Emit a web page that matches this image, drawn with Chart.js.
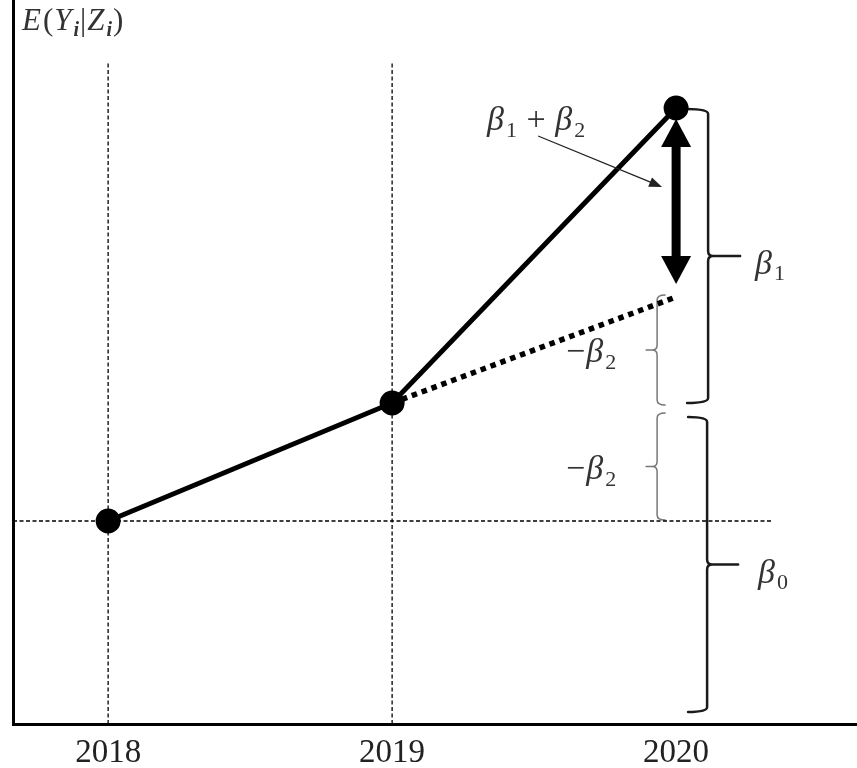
<!DOCTYPE html>
<html>
<head>
<meta charset="utf-8">
<script src="https://cdn.jsdelivr.net/npm/chart.js@4"></script>
<style>
  body { margin: 0; background: #fff; }
  #wrap { width: 857px; height: 768px; }
</style>
</head>
<body>
<div id="wrap"><canvas id="chart"></canvas></div>
<script>
// values (vertical unit = 1 px of the original plot)
const years = [2018, 2019, 2020];
const expected = [203, 321, 616];          // E(Y|Z) observed path
const trendYears = [2019, 2020];
const trendValues = [321, 427];            // dotted counterfactual
const baselineValue = 203;                 // beta0 level
const guideYears = [2018, 2019];           // dashed vertical guides
const guideTop = 662;
const xTickLabels = ['2018', '2019', '2020'];

const SERIF = "'Liberation Serif', 'DejaVu Serif', serif";
const INK = '#1a1a1a';

// draw a run of text pieces: [text, kind] kind = i (italic), n (normal), s (subscript), si (italic subscript)
function drawMath(ctx, pieces, x, y, size) {
    ctx.save();
    ctx.fillStyle = '#333';
    ctx.textBaseline = 'alphabetic';
    ctx.textAlign = 'left';
    pieces.forEach(([t, kind]) => {
        if (kind === 's' || kind === 'si') {
            ctx.font = `${kind === 'si' ? 'italic bold ' : ''}${Math.round(size * 0.66)}px ${SERIF}`;
            ctx.fillText(t, x, y + size * 0.2);
        } else if (kind === 'i') {
            ctx.font = `italic ${size}px ${SERIF}`;
            ctx.fillText(t, x, y);
        } else {
            ctx.font = `${size}px ${SERIF}`;
            ctx.fillText(t, x, y);
        }
        x += ctx.measureText(t).width + (kind === 'i' ? 2 : 1);
    });
    ctx.restore();
}

// curly brace; dir = 1 tip points right, -1 tip points left
function drawBrace(ctx, x, top, bottom, dir, arm, tip, color, width) {
    const mid = (top + bottom) / 2;
    const r = 5;
    ctx.save();
    ctx.strokeStyle = color;
    ctx.lineWidth = width;
    ctx.lineCap = 'round';
    ctx.beginPath();
    ctx.moveTo(x - dir * arm, top);
    ctx.quadraticCurveTo(x, top, x, top + r);
    ctx.lineTo(x, mid - r);
    ctx.quadraticCurveTo(x, mid, x + dir * r, mid);
    ctx.lineTo(x + dir * tip, mid);
    ctx.moveTo(x + dir * r, mid);
    ctx.quadraticCurveTo(x, mid, x, mid + r);
    ctx.lineTo(x, bottom - r);
    ctx.quadraticCurveTo(x, bottom, x - dir * arm, bottom);
    ctx.stroke();
    ctx.restore();
}

const annotations = {
    id: 'annotations',
    beforeDatasetsDraw(chart) {
        const ctx = chart.ctx;
        const xs = chart.scales.x, ys = chart.scales.y;
        const x20 = xs.getPixelForValue(2020);
        const yTop = ys.getPixelForValue(expected[2]);
        const y19 = ys.getPixelForValue(expected[1]);
        const yBase = ys.getPixelForValue(baselineValue);
        const yDot = ys.getPixelForValue(trendValues[1]);

        // braces
        drawBrace(ctx, x20 + 32, yTop + 1, y19, 1, 21, 32, INK, 2.5);
        drawBrace(ctx, x20 + 31, y19 + 14, chart.chartArea.bottom - 12, 1, 19, 31, INK, 2.5);
        drawBrace(ctx, x20 - 19, yDot - 2, y19 + 2, -1, 8, 11, '#777', 1.5);
        drawBrace(ctx, x20 - 19, y19 + 10, yBase - 1, -1, 8, 11, '#777', 1.5);

        // thick double arrow
        const aTop = yTop + 11, aBot = yDot - 13, hw = 15, hh = 28;
        ctx.save();
        ctx.fillStyle = '#000';
        ctx.fillRect(x20 - 4.5, aTop + hh - 2, 9, aBot - aTop - 2 * hh + 4);
        ctx.beginPath();
        ctx.moveTo(x20, aTop); ctx.lineTo(x20 + hw, aTop + hh); ctx.lineTo(x20 - hw, aTop + hh);
        ctx.closePath(); ctx.fill();
        ctx.beginPath();
        ctx.moveTo(x20, aBot); ctx.lineTo(x20 + hw, aBot - hh); ctx.lineTo(x20 - hw, aBot - hh);
        ctx.closePath(); ctx.fill();
        ctx.restore();
    },
    afterDatasetsDraw(chart) {
        const ctx = chart.ctx;
        const xs = chart.scales.x, ys = chart.scales.y;
        const x20 = xs.getPixelForValue(2020);
        const yTop = ys.getPixelForValue(expected[2]);
        const y19 = ys.getPixelForValue(expected[1]);
        const yBase = ys.getPixelForValue(baselineValue);
        const yDot = ys.getPixelForValue(trendValues[1]);

        // thin pointer arrow
        const x0 = x20 - 138, y0 = yTop + 28, x1 = x20 - 14, y1 = yTop + 79;
        const ang = Math.atan2(y1 - y0, x1 - x0);
        ctx.save();
        ctx.strokeStyle = '#222';
        ctx.fillStyle = '#222';
        ctx.lineWidth = 1.3;
        ctx.beginPath(); ctx.moveTo(x0, y0);
        ctx.lineTo(x1 - 10 * Math.cos(ang), y1 - 10 * Math.sin(ang)); ctx.stroke();
        ctx.beginPath();
        ctx.moveTo(x1, y1);
        ctx.lineTo(x1 - 13 * Math.cos(ang) + 5 * Math.sin(ang), y1 - 13 * Math.sin(ang) - 5 * Math.cos(ang));
        ctx.lineTo(x1 - 13 * Math.cos(ang) - 5 * Math.sin(ang), y1 - 13 * Math.sin(ang) + 5 * Math.cos(ang));
        ctx.closePath(); ctx.fill();
        ctx.restore();

        // labels
        const s = 34;
        drawMath(ctx, [['E', 'i'], ['(', 'n'], ['Y', 'i'], ['i', 'si'], ['|', 'n'], ['Z', 'i'], ['i', 'si'], [')', 'n']],
            chart.chartArea.left + 9, 30, 31);
        drawMath(ctx, [['β', 'i'], ['1', 's'], [' + ', 'n'], ['β', 'i'], ['2', 's']], x20 - 189, yTop + 22, s);
        drawMath(ctx, [['β', 'i'], ['1', 's']], x20 + 79, (yTop + y19) / 2 + 18, s);
        drawMath(ctx, [['β', 'i'], ['0', 's']], x20 + 82, (y19 + 14 + chart.chartArea.bottom - 12) / 2 + 18, s);
        drawMath(ctx, [['−', 'n'], ['β', 'i'], ['2', 's']], x20 - 110, (yDot + y19) / 2 + 12, s);
        drawMath(ctx, [['−', 'n'], ['β', 'i'], ['2', 's']], x20 - 110, (y19 + 10 + yBase) / 2 + 12, s);
    }
};

const datasets = [
    {
        data: years.map((y, i) => ({ x: y, y: expected[i] })),
        borderColor: '#000', backgroundColor: '#000',
        borderWidth: 5, pointRadius: 10, pointHoverRadius: 10,
        order: 0
    },
    {
        data: trendYears.map((y, i) => ({ x: y, y: trendValues[i] })),
        borderColor: '#000', borderWidth: 5.5, borderDash: [5.5, 5],
        borderCapStyle: 'butt', pointRadius: 0, order: 1
    },
    {
        data: [{ x: 2017.665, y: baselineValue }, { x: 2020.338, y: baselineValue }],
        borderColor: '#000', borderWidth: 1.3, borderDash: [4, 2.5], pointRadius: 0, order: 2
    }
];
guideYears.forEach(g => {
    datasets.push({
        data: [{ x: g, y: 0 }, { x: g, y: guideTop }],
        borderColor: '#000', borderWidth: 1.3, borderDash: [4, 2.5], pointRadius: 0, order: 2
    });
});

new Chart(document.getElementById('chart'), {
    type: 'line',
    data: { datasets },
    plugins: [annotations],
    options: {
        responsive: true,
        maintainAspectRatio: false,
        animation: false,
        layout: { padding: 0, autoPadding: false },
        plugins: { legend: { display: false }, tooltip: { enabled: false } },
        scales: {
            x: {
                type: 'linear',
                min: 2017.665,
                max: 2020.637,
                grid: { display: false },
                border: { display: true, color: '#000', width: 3 },
                afterBuildTicks: scale => { scale.ticks = years.map(v => ({ value: v })); },
                afterFit: scale => { scale.height = 44; },
                ticks: {
                    padding: 2,
                    color: '#222',
                    font: { family: SERIF, size: 33 },
                    callback: (v) => xTickLabels[years.indexOf(v)]
                }
            },
            y: {
                min: 0,
                max: 724,
                grid: { display: false },
                border: { display: true, color: '#000', width: 3 },
                ticks: { display: false },
                afterFit: scale => { scale.width = 13; }
            }
        }
    }
});
</script>
</body>
</html>
